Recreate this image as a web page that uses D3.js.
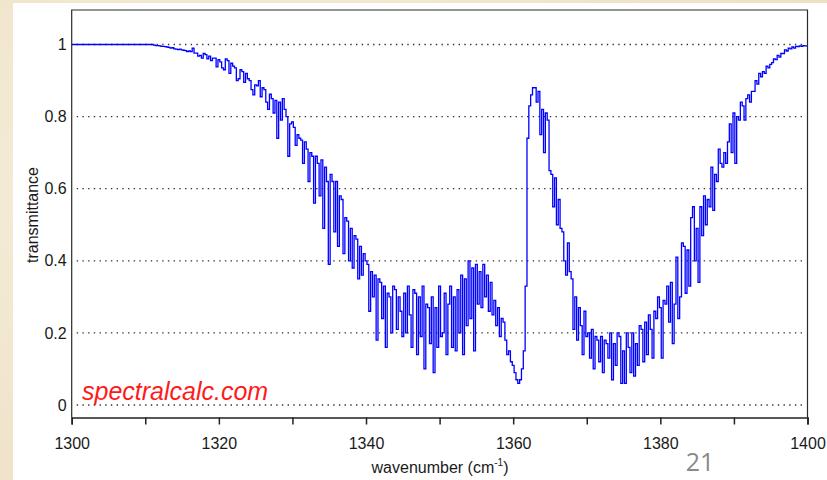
<!DOCTYPE html>
<html><head><meta charset="utf-8">
<script src="https://cdn.jsdelivr.net/npm/d3@7"></script>
<style>
html,body{margin:0;padding:0;background:#f3ead5;}
svg{display:block;}
</style></head>
<body>
<svg id="chart" width="827" height="480"></svg>
<script>
// ---------- data ----------
const xTicks = [1300, 1310, 1320, 1330, 1340, 1350, 1360, 1370, 1380, 1390, 1400];
const xTickLabels = ["1300", "", "1320", "", "1340", "", "1360", "", "1380", "", "1400"];
const yTicks = [0, 0.2, 0.4, 0.6, 0.8, 1];
const yTickLabels = ["0", "0.2", "0.4", "0.6", "0.8", "1"];
const wnStart = 1300, wnStep = 0.25;
// transmittance, 4 samples per cm^-1
const transmittance = [
 1,1,1,1, 1,1,1,1, 1,1,1,1, 1,1,1,1, 1,1,1,1, 1,1,1,1,          // 1300-1305
 1,1,1,1, 1,1,1,1, 1,1,1,1, 1,1,1,1, 1,1,1,1,                   // 1306-1310
 1,0.998,0.997,0.997,          // 1311
 0.996,0.995,0.995,0.994,      // 1312
 0.993,0.992,0.99,0.991,       // 1313
 0.988,0.987,0.986,0.987,      // 1314
 0.985,0.984,0.983,0.98,       // 1315
 0.982,0.98,0.99,0.976,        // 1316
 0.976,0.968,0.97,0.962,       // 1317
 0.975,0.972,0.96,0.968,       // 1318
 0.955,0.962,0.962,0.938,      // 1319
 0.958,0.952,0.935,0.93,       // 1320
 0.96,0.955,0.92,0.948,        // 1321
 0.94,0.935,0.9,0.905,         // 1322
 0.93,0.925,0.895,0.92,        // 1323
 0.905,0.9,0.875,0.86,         // 1324
 0.888,0.885,0.9,0.855,        // 1325
 0.88,0.875,0.84,0.82,         // 1326
 0.862,0.85,0.81,0.845,        // 1327
 0.74,0.84,0.79,0.85,          // 1328
 0.82,0.80,0.69,0.78,          // 1329
 0.785,0.77,0.72,0.75,         // 1330
 0.74,0.735,0.67,0.73,         // 1331
 0.71,0.62,0.70,0.69,          // 1332
 0.56,0.69,0.67,0.58,          // 1333
 0.68,0.49,0.66,0.62,          // 1334
 0.39,0.64,0.62,0.48,          // 1335
 0.62,0.44,0.58,0.57,          // 1336
 0.42,0.52,0.51,0.40,          // 1337
 0.49,0.38,0.47,0.46,          // 1338
 0.35,0.44,0.36,0.42,          // 1339
 0.40,0.39,0.26,0.37,          // 1340
 0.30,0.36,0.18,0.35,          // 1341
 0.34,0.24,0.33,0.16,          // 1342
 0.31,0.30,0.20,0.33,          // 1343
 0.32,0.21,0.30,0.26,          // 1344
 0.19,0.31,0.20,0.33,          // 1345
 0.25,0.16,0.32,0.31,          // 1346
 0.14,0.30,0.19,0.33,          // 1347
 0.10,0.28,0.27,0.17,          // 1348
 0.30,0.09,0.27,0.16,          // 1349
 0.33,0.19,0.20,0.31,          // 1350
 0.14,0.28,0.33,0.16,          // 1351
 0.30,0.15,0.32,0.20,          // 1352
 0.36,0.14,0.35,0.22,          // 1353
 0.40,0.24,0.38,0.15,          // 1354
 0.39,0.28,0.37,0.27,          // 1355
 0.39,0.30,0.36,0.26,          // 1356
 0.34,0.25,0.29,0.22,          // 1357
 0.27,0.19,0.24,0.23,          // 1358
 0.18,0.14,0.15,0.12,          // 1359
 0.11,0.09,0.07,0.06,          // 1360
 0.07,0.10,0.15,0.33,          // 1361
 0.74,0.83,0.86,0.88,          // 1362
 0.88,0.84,0.87,0.75,          // 1363
 0.82,0.70,0.81,0.79,          // 1364
 0.65,0.64,0.55,0.63,          // 1365
 0.50,0.57,0.49,0.48,          // 1366
 0.40,0.36,0.45,0.37,          // 1367
 0.35,0.21,0.30,0.18,          // 1368
 0.27,0.22,0.14,0.26,          // 1369
 0.19,0.20,0.13,0.21,          // 1370
 0.10,0.19,0.18,0.12,          // 1371
 0.19,0.09,0.18,0.17,          // 1372
 0.13,0.20,0.07,0.17,          // 1373
 0.11,0.20,0.19,0.06,          // 1374
 0.15,0.06,0.20,0.16,          // 1375
 0.09,0.20,0.08,0.17,          // 1376
 0.11,0.22,0.21,0.12,          // 1377
 0.23,0.14,0.25,0.21,          // 1378
 0.13,0.26,0.24,0.30,          // 1379
 0.27,0.13,0.29,0.28,          // 1380
 0.33,0.23,0.34,0.17,          // 1381
 0.28,0.41,0.24,0.30,          // 1382
 0.45,0.44,0.31,0.43,          // 1383
 0.33,0.52,0.55,0.40,          // 1384
 0.49,0.34,0.55,0.47,          // 1385
 0.58,0.50,0.57,0.55,          // 1386
 0.66,0.54,0.64,0.62,          // 1387
 0.71,0.67,0.66,0.70,          // 1388
 0.67,0.73,0.78,0.70,          // 1389
 0.81,0.67,0.80,0.79,          // 1390
 0.84,0.83,0.79,0.85,          // 1391
 0.86,0.84,0.87,0.87,          // 1392
 0.90,0.89,0.92,0.91,          // 1393
 0.925,0.92,0.94,0.935,        // 1394
 0.945,0.95,0.96,0.958,        // 1395
 0.97,0.965,0.975,0.975,       // 1396
 0.985,0.982,0.99,0.988,       // 1397
 0.993,0.99,0.995,0.994,       // 1398
 0.996,0.995,0.997,0.996,      // 1399
 0.996                         // 1400
];
const wavenumbers = transmittance.map((_, i) => wnStart + i * wnStep);

// ---------- drawing ----------
const svg = d3.select("#chart");
const W = 827, H = 480;
const FONT = "Liberation Sans, Arial, Helvetica, sans-serif";

// parchment-like background
const defs = svg.append("defs");
const rg = defs.append("radialGradient").attr("id", "parch").attr("cx", "30%").attr("cy", "40%").attr("r", "80%");
rg.append("stop").attr("offset", "0%").attr("stop-color", "#f6efde");
rg.append("stop").attr("offset", "100%").attr("stop-color", "#ede1c4");
svg.append("rect").attr("width", W).attr("height", H).attr("fill", "url(#parch)");
svg.append("rect").attr("x", 13).attr("y", 3).attr("width", W - 13).attr("height", H - 3).attr("fill", "#ffffff");

const x = d3.scaleLinear().domain([1300, 1400]).range([71.7, 807.5]);
const y = d3.scaleLinear().domain([0, 1]).range([405, 44.5]);
const frameTop = 10, frameBottom = 417.5;

defs.append("clipPath").attr("id", "clip").append("rect")
  .attr("x", x(1300)).attr("y", frameTop).attr("width", x(1400) - x(1300)).attr("height", frameBottom - frameTop);

// gridlines (dotted)
svg.append("g").selectAll("line").data(yTicks).join("line")
  .attr("x1", x(1300) + 5).attr("x2", x(1400) - 2)
  .attr("y1", d => y(d)).attr("y2", d => y(d))
  .attr("stroke", "#333").attr("stroke-width", 1.3)
  .attr("stroke-dasharray", "1.4,4.3");

// spectrum
const line = d3.line().x((d, i) => x(wavenumbers[i])).y(d => y(d)).curve(d3.curveStep);
svg.append("path").datum(transmittance)
  .attr("clip-path", "url(#clip)")
  .attr("d", line).attr("fill", "none").attr("stroke", "#0000ff").attr("stroke-width", 1.3)
  .attr("stroke-linejoin", "miter");

// frame
svg.append("path")
  .attr("d", `M${x(1300)},${frameBottom}V${frameTop}H${x(1400)}V${frameBottom}`)
  .attr("fill", "none").attr("stroke", "#2a2a2a").attr("stroke-width", 1.2);

// x axis
const xAxis = d3.axisBottom(x).tickValues(xTicks).tickSize(7).tickPadding(13)
  .tickFormat((d, i) => xTickLabels[i]);
const gx = svg.append("g").attr("transform", `translate(0,${frameBottom})`).call(xAxis);
gx.select(".domain").attr("stroke", "#222").attr("stroke-width", 1.6);
gx.selectAll(".tick line").attr("stroke", "#222").attr("stroke-width", 1.5);
gx.selectAll(".tick text").attr("font-family", FONT)
  .attr("font-size", 16).attr("fill", "#1a1a1a");

// y axis labels (no ticks)
const yAxis = d3.axisLeft(y).tickValues(yTicks).tickSize(0).tickPadding(5)
  .tickFormat((d, i) => yTickLabels[i]);
const gy = svg.append("g").attr("transform", `translate(${x(1300)},0)`).call(yAxis);
gy.select(".domain").remove();
gy.selectAll(".tick text").attr("font-family", FONT)
  .attr("font-size", 16).attr("fill", "#1a1a1a");

// axis titles
svg.append("text").attr("transform", "translate(38,215) rotate(-90)")
  .attr("text-anchor", "middle").attr("font-family", FONT)
  .attr("font-size", 16).attr("fill", "#1a1a1a").text("transmittance");

const xl = svg.append("text").attr("x", 440).attr("y", 473).attr("text-anchor", "middle")
  .attr("font-family", FONT).attr("font-size", 16).attr("fill", "#1a1a1a");
xl.append("tspan").text("wavenumber (cm");
xl.append("tspan").attr("dy", -7).attr("font-size", 10).text("-1");
xl.append("tspan").attr("dy", 7).text(")");

// watermark
svg.append("text").attr("x", 82).attr("y", 400)
  .attr("font-family", FONT).attr("font-style", "italic")
  .attr("font-size", 25).attr("fill", "#ff1a1a").text("spectralcalc.com");

// page number
svg.append("text").attr("x", 700).attr("y", 471).attr("text-anchor", "middle")
  .attr("font-family", "Open Sans, sans-serif").attr("font-size", 25)
  .attr("fill", "#8a8a8a").text("21");
</script>
</body></html>
